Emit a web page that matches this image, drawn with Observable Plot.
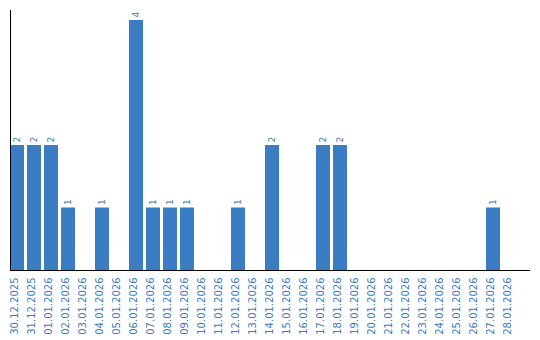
<!DOCTYPE html>
<html>
<head>
<meta charset="utf-8">
<script src="https://cdn.jsdelivr.net/npm/d3@7"></script>
<script src="https://cdn.jsdelivr.net/npm/@observablehq/plot@0.6"></script>
<style>
html,body{margin:0;padding:0;background:#fff;}
</style>
</head>
<body>
<div id="chart"></div>
<script>
const dates = ["30.12.2025","31.12.2025","01.01.2026","02.01.2026","03.01.2026","04.01.2026","05.01.2026","06.01.2026","07.01.2026","08.01.2026","09.01.2026","10.01.2026","11.01.2026","12.01.2026","13.01.2026","14.01.2026","15.01.2026","16.01.2026","17.01.2026","18.01.2026","19.01.2026","20.01.2026","21.01.2026","22.01.2026","23.01.2026","24.01.2026","25.01.2026","26.01.2026","27.01.2026","28.01.2026"];
const counts = [2,2,2,1,0,1,0,4,1,1,1,0,0,1,0,2,0,0,2,2,0,0,0,0,0,0,0,0,1,0];

const data = dates.map((d,i)=>({date:d, value:counts[i]}));
const nonzero = data.filter(d=>d.value>0);
const blue = "#3a7dc2";

const chart = Plot.plot({
  width: 540,
  height: 340,
  marginLeft: 10,
  marginRight: 10,
  marginTop: 10,
  marginBottom: 70,
  style: {fontFamily: "DejaVu Sans, Verdana, sans-serif", background: "#fff"},
  x: {domain: dates, paddingInner: 0.176, paddingOuter: 0.382, align: 0, axis: null},
  y: {domain: [0, 4.16], axis: null},
  marks: [
    Plot.barY(data, {x: "date", y: "value", fill: blue}),
    Plot.text(nonzero, {x: "date", y: "value", text: d => String(d.value), rotate: -90, textAnchor: "start", dy: -3, fill: blue, fontSize: 9}),
    Plot.text(data, {x: "date", frameAnchor: "bottom", text: "date", rotate: -90, textAnchor: "end", dy: 7, fill: blue, fontSize: 10}),
    Plot.ruleY([0], {stroke: "#000", strokeWidth: 1}),
    Plot.frame({anchor: "left", stroke: "#000", strokeWidth: 1})
  ]
});
document.getElementById("chart").appendChild(chart);
</script>
</body>
</html>
